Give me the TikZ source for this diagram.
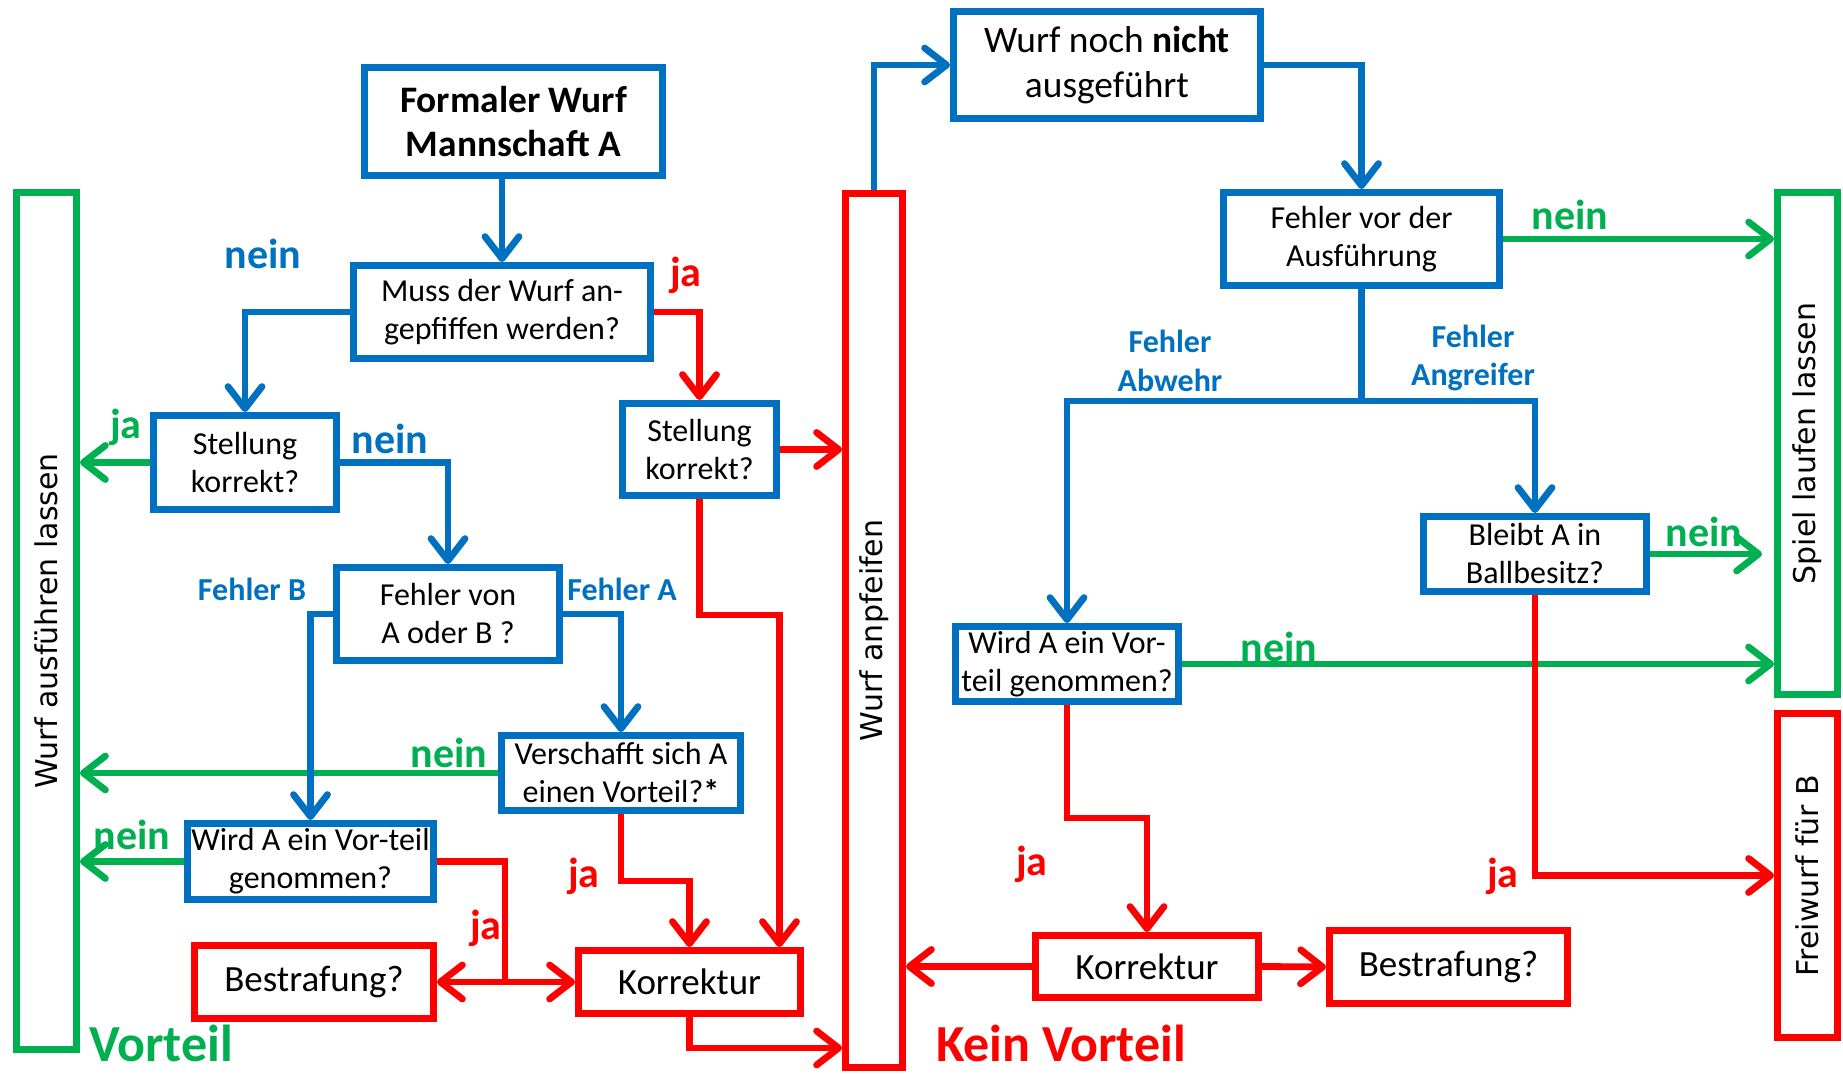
\documentclass[tikz,border=0pt]{standalone}
\usepackage{fontspec}
\usepackage{graphicx}
\setmainfont{Carlito}
\newfontfamily\vfont{DejaVu Sans}
\usetikzlibrary{arrows.meta}
\definecolor{mblue}{HTML}{0070C0}
\definecolor{mred}{HTML}{FF0000}
\definecolor{mgreen}{HTML}{00B050}
\tikzset{
  >={Straight Barb[length=11pt,width=17pt,round]},
  box/.style={draw=mblue,line width=3.5pt,fill=white,align=center,inner sep=0pt,
    font=\fontsize{16}{19}\selectfont},
  rbox/.style={box,draw=mred},
  gbox/.style={box,draw=mgreen},
  bline/.style={mblue,line width=3.4pt},
  rline/.style={mred,line width=3.4pt},
  gline/.style={mgreen,line width=3.4pt},
  lab/.style={font=\bfseries\fontsize{21}{24}\selectfont},
  slab/.style={mblue,align=center,font=\bfseries\fontsize{16}{19.4}\selectfont},
  big/.style={anchor=base,inner sep=0pt,font=\bfseries\fontsize{26}{30}\selectfont},
}
\begin{document}
\begin{tikzpicture}[x=0.5pt,y=-0.5pt]
    \useasboundingbox (0,0) rectangle (1843,1074);
    % left half
    \node[box,minimum width=149pt,minimum height=54pt,font=\bfseries\fontsize{18.7}{22.4}\selectfont] (formal) at (513.5,121.5) {Formaler Wurf\\Mannschaft A};
    \node[box,minimum width=148.5pt,minimum height=46.5pt] (muss) at (502,312) {Muss der Wurf an-\\gepfiffen werden?};
    \node[box,minimum width=91.5pt,minimum height=47pt] (stell1) at (245,462.5) {Stellung\\korrekt?};
    \node[box,minimum width=77pt,minimum height=46pt] (stell2) at (699.5,449.5) {Stellung\\korrekt?};
    \node[box,minimum width=111.5pt,minimum height=46.5pt] (fvon) at (448,614) {Fehler von\\A oder B ?};
    \node[box,minimum width=119.5pt,minimum height=37.5pt] (versch) at (621,773) {Verschafft sich A\\einen Vorteil?\textbf{*}};
    \node[box,minimum width=123pt,minimum height=38pt] (wird1) at (310.5,861.5) {Wird A ein Vor-teil\\genommen?};
    \node[rbox,minimum width=119.5pt,minimum height=36.5pt,font=\fontsize{18.5}{20}\selectfont] (best1) at (314,982) {Bestrafung?};
    \node[rbox,minimum width=111pt,minimum height=31.5pt,font=\fontsize{18.5}{20}\selectfont] (korr1) at (689.5,982) {Korrektur};
    \node[gbox,minimum width=30pt,minimum height=428.5pt] (ausf) at (46.5,621) {\rotatebox{90}{\vfont\fontsize{15}{18}\selectfont Wurf ausführen lassen}};
    \node[rbox,minimum width=28.5pt,minimum height=437pt] (anpf) at (874,630.5) {\rotatebox{90}{\vfont\fontsize{15}{18}\selectfont Wurf anpfeifen}};
    % right half
    \node[box,minimum width=153.5pt,minimum height=53.5pt,font=\fontsize{18.7}{22.4}\selectfont] (noch) at (1107,65) {Wurf noch \textbf{nicht}\\ausgeführt};
    \node[box,minimum width=138pt,minimum height=46.5pt] (fvor) at (1361.5,239) {Fehler vor der\\Ausführung};
    \node[box,minimum width=111.5pt,minimum height=37.5pt] (bleibt) at (1535,554) {Bleibt A in\\Ballbesitz?};
    \node[box,minimum width=111.5pt,minimum height=37.5pt] (wird2) at (1067,664) {Wird A ein Vor-\\teil genommen?};
    \node[rbox,minimum width=111.5pt,minimum height=31pt,font=\fontsize{18.5}{20}\selectfont] (korr2) at (1147,966.5) {Korrektur};
    \node[rbox,minimum width=119pt,minimum height=36.5pt,font=\fontsize{18.5}{20}\selectfont] (best2) at (1448.5,967) {Bestrafung?};
    \node[gbox,minimum width=30pt,minimum height=251pt] (spiel) at (1807.5,443.5) {\rotatebox{90}{\vfont\fontsize{15}{18}\selectfont Spiel laufen lassen}};
    \node[rbox,minimum width=30pt,minimum height=162pt] (freiw) at (1807.5,875.5) {\rotatebox{90}{\vfont\fontsize{15}{18}\selectfont Freiwurf für B}};

    % green connectors first (blue and red cross over them)
    \draw[gline,->] (stell1.west) -- (stell1.west -| ausf.east);
    \draw[gline,->] (versch.west) -- (versch.west -| ausf.east);
    \draw[gline,->] (wird1.west) -- (wird1.west -| ausf.east);
    \draw[gline,->] (fvor.east) -- (fvor.east -| spiel.west);
    \draw[gline,->] (bleibt.east) -- ([xshift=-6pt]bleibt.east -| spiel.west);
    \draw[gline,->] (wird2.east) -- (wird2.east -| spiel.west);

    % blue connectors
    \draw[bline,->] (formal.south -| muss.north) -- (muss.north);
    \draw[bline,->] (muss.west) -| (stell1.north);
    \draw[bline,->] (stell1.east) -| (fvon.north);
    \draw[bline,->] (fvon.west) -| (wird1.north);
    \draw[bline,->] (fvon.east) -| (versch.north);
    \draw[bline,->] (anpf.north) |- (noch.west);
    \draw[bline,->] (noch.east) -| (fvor.north);
    \draw[bline] (fvor.south) -- ++(0,112) coordinate (fb);
    \draw[bline,->] (fb) -| (wird2.north);
    \draw[bline,->] (fb) -| (bleibt.north);

    % red connectors
    \draw[rline,->] (muss.east) -| (stell2.north);
    \draw[rline,->] (stell2.east) -- (stell2.east -| anpf.west);
    \draw[rline,->] (stell2.south) -- ++(0,116) -| ([xshift=45pt]korr1.north);
    \draw[rline,->] (versch.south) -- ++(0,67) -| (korr1.north);
    \coordinate (jl) at (505,982);
    \draw[rline] (wird1.east) -| (jl);
    \draw[rline,<->] (best1.east) -- (korr1.west);
    \draw[rline,->] (korr1.south) -- ++(0,31) coordinate (kb) -- (kb -| anpf.west);
    \draw[rline,->] (wird2.south) -- ++(0,113) -| (korr2.north);
    \draw[rline,->] (bleibt.south) |- (freiw.west);
    \draw[rline,->] (korr2.west) -- (korr2.west -| anpf.east);
    \draw[rline,->] (korr2.east) -- (best2.west);

    % labels
    \node[lab,mblue] (l1) at (263,254) {nein};
    \node[lab,mred] (l2) at (686,275) {ja};
    \node[lab,mgreen] (l3) at (126,427) {ja};
    \node[lab,mblue] (l4) at (390,439) {nein};
    \node[slab] (l5) at (252,589) {Fehler B};
    \node[slab] (l6) at (622,589) {Fehler A};
    \node[lab,mgreen] (l7) at (449,753) {nein};
    \node[lab,mgreen] (l8) at (132,835) {nein};
    \node[lab,mred] (l9) at (584,876) {ja};
    \node[lab,mred] (l10) at (486,928) {ja};
    \node[big,mgreen] (vort) at (161,1061) {Vorteil};
    \node[lab,mgreen] (l11) at (1570,215) {nein};
    \node[slab] (l12) at (1170,361) {Fehler\\Abwehr};
    \node[slab] (l13) at (1473,358) {Fehler\\Angreifer};
    \node[lab,mgreen] (l14) at (1704,532) {nein};
    \node[lab,mgreen] (l15) at (1279,647) {nein};
    \node[lab,mred] (l16) at (1032,864) {ja};
    \node[lab,mred] (l17) at (1503,876) {ja};
    \node[big,mred] (kvort) at (1061,1061) {Kein Vorteil};
\end{tikzpicture}
\end{document}
